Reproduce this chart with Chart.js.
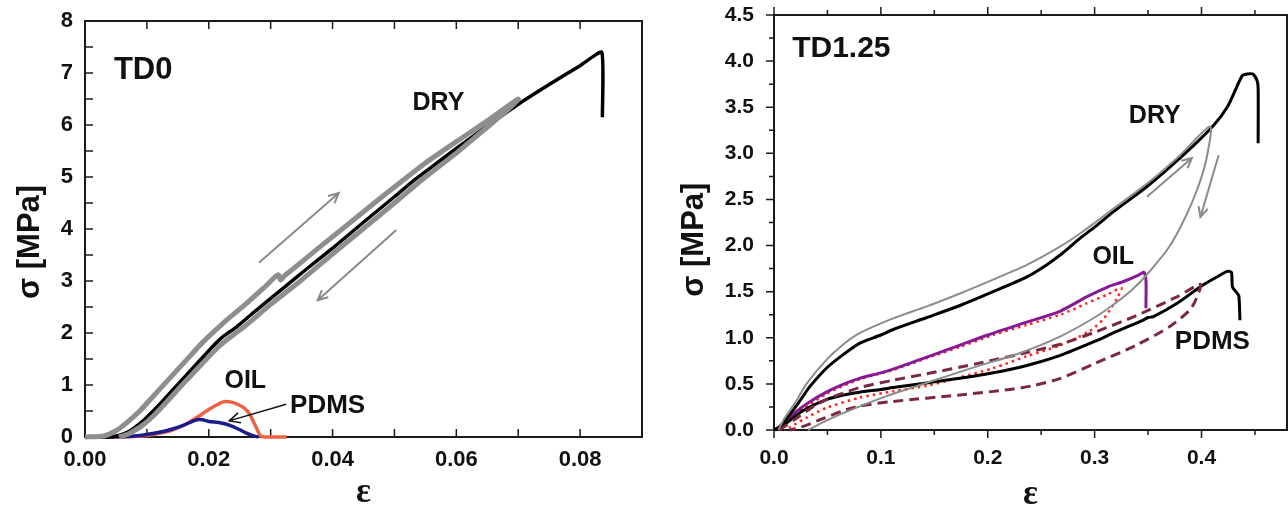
<!DOCTYPE html>
<html>
<head>
<meta charset="utf-8">
<script src="https://cdn.jsdelivr.net/npm/chart.js@4.4.1/dist/chart.umd.min.js"></script>
<style>
    html, body { margin: 0; padding: 0; background: #fff; overflow: hidden; }
    #wrap { position: relative; width: 1288px; height: 507px; }
    #chartTD0 { position: absolute; left: 0; top: 0; }
    #chartTD125 { position: absolute; left: 645px; top: 0; }
</style>
</head>
<body>
<div id="wrap">
    <canvas id="chartTD0" width="645" height="507"></canvas>
    <canvas id="chartTD125" width="643" height="507"></canvas>
</div>
<script>
// ---- TD0 panel (strain, stress MPa) ----
const td0XTicks = [0, 0.02, 0.04, 0.06, 0.08];
const td0YTicks = [0, 1, 2, 3, 4, 5, 6, 7, 8];
const td0DryBlack = [[0,0],[0.004,0],[0.005,0.02],[0.006,0.05],[0.007,0.10],[0.008,0.18],[0.009,0.27],[0.010,0.38],[0.012,0.62],[0.014,0.88],[0.016,1.14],[0.018,1.40],[0.020,1.66],[0.022,1.90],[0.0245,2.12],[0.028,2.47],[0.032,2.86],[0.036,3.25],[0.040,3.63],[0.045,4.13],[0.050,4.62],[0.053,4.92],[0.056,5.19],[0.060,5.55],[0.065,5.98],[0.070,6.40],[0.075,6.78],[0.080,7.14],[0.0835,7.40],[0.0836,6.15]];
const td0DryCycle = [[0,0],[0.003,0.02],[0.005,0.12],[0.007,0.30],[0.009,0.52],[0.011,0.78],[0.013,1.04],[0.015,1.30],[0.017,1.56],[0.019,1.82],[0.0226,2.22],[0.026,2.56],[0.029,2.88],[0.0312,3.12],[0.0316,3.02],[0.0322,3.10],[0.034,3.27],[0.038,3.66],[0.043,4.14],[0.048,4.62],[0.051,4.90],[0.055,5.27],[0.060,5.68],[0.065,6.08],[0.070,6.50],
    [0.068,6.26],[0.064,5.86],[0.060,5.46],[0.055,5.00],[0.050,4.50],[0.045,4.01],[0.040,3.52],[0.035,3.02],[0.030,2.55],[0.026,2.15],[0.022,1.78],[0.019,1.42],[0.016,1.04],[0.013,0.65],[0.011,0.40],[0.009,0.20],[0.007,0.06],[0.0055,0]];
const td0Oil = [[0,0],[0.006,0],[0.008,0.01],[0.010,0.03],[0.012,0.07],[0.014,0.13],[0.016,0.23],[0.018,0.37],[0.020,0.53],[0.0215,0.63],[0.0225,0.68],[0.0237,0.67],[0.0248,0.62],[0.0258,0.55],[0.0266,0.44],[0.0272,0.30],[0.0278,0.15],[0.0283,0.03],[0.029,0],[0.0326,0]];
const td0Pdms = [[0,0],[0.006,0.005],[0.008,0.02],[0.010,0.05],[0.012,0.09],[0.014,0.15],[0.016,0.23],[0.018,0.33],[0.019,0.33],[0.020,0.30],[0.022,0.27],[0.0235,0.22],[0.025,0.14],[0.026,0.08],[0.027,0.03],[0.028,0]];

const td0Labels = ['TD0', 'DRY', 'OIL', 'PDMS'];
const td0LabelAt = [[0.0094,7.04],[0.0571,6.43],[0.0259,1.07],[0.0392,0.59]];
const td0Arrows = [[0.0281,3.35,0.041,4.69],[0.0503,3.98,0.0376,2.63],[0.0325,0.63,0.0233,0.31]];

// ---- TD1.25 panel ----
const td125XTicks = [0, 0.1, 0.2, 0.3, 0.4];
const td125YTicks = [0, 0.5, 1, 1.5, 2, 2.5, 3, 3.5, 4, 4.5];
const td125DryBlack = [[0,0],[0.005,0.03],[0.015,0.17],[0.025,0.33],[0.0335,0.47],[0.049,0.67],[0.065,0.82],[0.080,0.94],[0.100,1.03],[0.1115,1.09],[0.143,1.22],[0.174,1.35],[0.205,1.50],[0.2366,1.66],[0.255,1.79],[0.268,1.90],[0.2865,2.08],[0.300,2.20],[0.318,2.37],[0.349,2.64],[0.380,2.95],[0.411,3.30],[0.425,3.52],[0.438,3.84],[0.443,3.86],[0.448,3.86],[0.452,3.79],[0.453,3.70],[0.453,3.11]];
const td125DryCycle = [[0.004,0],[0.010,0.13],[0.020,0.30],[0.0304,0.50],[0.049,0.76],[0.065,0.93],[0.080,1.05],[0.1115,1.21],[0.143,1.34],[0.174,1.48],[0.205,1.63],[0.2366,1.79],[0.268,1.99],[0.290,2.16],[0.320,2.42],[0.350,2.68],[0.380,2.98],[0.408,3.29],
    [0.405,2.96],[0.397,2.64],[0.385,2.31],[0.370,1.99],[0.350,1.70],[0.335,1.52],[0.320,1.38],[0.300,1.22],[0.267,1.01],[0.229,0.83],[0.190,0.69],[0.145,0.52],[0.106,0.37],[0.068,0.20],[0.045,0.08],[0.032,0]];
const td125Oil = [[0,0],[0.010,0.07],[0.020,0.19],[0.030,0.28],[0.049,0.41],[0.068,0.51],[0.080,0.56],[0.100,0.62],[0.1115,0.66],[0.143,0.79],[0.174,0.92],[0.200,1.03],[0.2366,1.17],[0.268,1.29],[0.292,1.44],[0.312,1.55],[0.327,1.61],[0.341,1.68],[0.346,1.71],[0.348,1.63],[0.348,1.32]];
const td125OilCycle = [[0,0],[0.020,0.17],[0.049,0.39],[0.080,0.55],[0.1115,0.65],[0.143,0.78],[0.174,0.90],[0.205,1.03],[0.2366,1.14],[0.268,1.25],[0.292,1.37],[0.312,1.47],[0.325,1.54],
    [0.322,1.45],[0.316,1.33],[0.308,1.20],[0.295,1.07],[0.268,0.92],[0.2366,0.80],[0.205,0.67],[0.174,0.57],[0.143,0.48],[0.1115,0.42],[0.080,0.35],[0.049,0.24],[0.030,0.13],[0.015,0.03],[0.010,0]];
const td125Pdms = [[0,0],[0.010,0.06],[0.020,0.15],[0.030,0.23],[0.049,0.33],[0.065,0.38],[0.080,0.41],[0.100,0.44],[0.1115,0.46],[0.143,0.51],[0.174,0.56],[0.205,0.62],[0.2366,0.70],[0.268,0.81],[0.300,0.96],[0.319,1.06],[0.345,1.19],[0.350,1.22],[0.355,1.23],[0.378,1.38],[0.401,1.57],[0.416,1.67],[0.424,1.72],[0.428,1.71],[0.429,1.55],[0.433,1.49],[0.435,1.45],[0.436,1.19]];
const td125PdmsCycle = [[0.005,0],[0.020,0.12],[0.035,0.24],[0.049,0.33],[0.080,0.46],[0.1115,0.54],[0.143,0.61],[0.190,0.72],[0.2366,0.84],[0.268,0.93],[0.300,1.06],[0.339,1.24],[0.378,1.45],[0.399,1.58],
    [0.395,1.42],[0.389,1.30],[0.370,1.12],[0.339,0.92],[0.300,0.72],[0.268,0.56],[0.242,0.48],[0.221,0.44],[0.174,0.38],[0.1115,0.31],[0.080,0.26],[0.065,0.21],[0.045,0.12],[0.030,0.05],[0.015,0]];

const td125Labels = ['TD1.25', 'DRY', 'OIL', 'PDMS'];
const td125LabelAt = [[0.063,4.13],[0.3563,3.40],[0.3174,1.87],[0.4102,0.96]];
const td125Arrows = [[0.349,2.53,0.391,2.95],[0.416,2.98,0.399,2.31]];

const toPts = arr => arr.map(p => ({ x: p[0], y: p[1] }));

function line(data, color, width, dash, tension) {
    return {
        data: toPts(data),
        showLine: true,
        borderColor: color,
        backgroundColor: color,
        borderWidth: width,
        borderDash: dash || [],
        pointRadius: 0,
        tension: tension === undefined ? 0.25 : tension,
        clip: 8
    };
}

// box + tick marks (ticks come from the scales)
const framePlugin = {
    id: 'frame',
    beforeDatasetsDraw(chart, args, o) {
        const { ctx, chartArea: a, scales: { x, y } } = chart;
        const d = o.inward ? 1 : -1;
        ctx.save();
        ctx.strokeStyle = '#1a1a1a';
        ctx.lineWidth = 1.5;
        ctx.beginPath();
        for (let i = 0; i * o.xStep <= x.max + 1e-9; i++) {
            const px = x.getPixelForValue(i * o.xStep);
            const len = i % o.xEvery === 0 ? o.major : o.minor;
            ctx.moveTo(px, a.bottom); ctx.lineTo(px, a.bottom - d * len);
            ctx.moveTo(px, a.top); ctx.lineTo(px, a.top + d * len);
        }
        for (let i = 0; i * o.yStep <= y.max + 1e-9; i++) {
            const py = y.getPixelForValue(i * o.yStep);
            const len = i % o.yEvery === 0 ? o.major : o.minor;
            ctx.moveTo(a.left, py); ctx.lineTo(a.left + d * len, py);
        }
        ctx.stroke();
        ctx.lineWidth = 2;
        ctx.strokeRect(a.left, a.top, a.right - a.left, a.bottom - a.top);
        ctx.restore();
    }
};

// text labels and arrows placed in data units
const notesPlugin = {
    id: 'notes',
    afterDatasetsDraw(chart, args, o) {
        const { ctx, scales: { x, y } } = chart;
        ctx.save();
        o.arrows.forEach((a, i) => {
            const x0 = x.getPixelForValue(a[0]), y0 = y.getPixelForValue(a[1]);
            const x1 = x.getPixelForValue(a[2]), y1 = y.getPixelForValue(a[3]);
            const st = o.arrowStyle[i];
            const ang = Math.atan2(y1 - y0, x1 - x0);
            ctx.strokeStyle = st.color;
            ctx.lineWidth = st.width;
            ctx.beginPath();
            ctx.moveTo(x0, y0); ctx.lineTo(x1, y1);
            ctx.moveTo(x1 - st.head * Math.cos(ang - 0.45), y1 - st.head * Math.sin(ang - 0.45));
            ctx.lineTo(x1, y1);
            ctx.lineTo(x1 - st.head * Math.cos(ang + 0.45), y1 - st.head * Math.sin(ang + 0.45));
            ctx.stroke();
        });
        ctx.fillStyle = '#111';
        ctx.textAlign = 'center';
        ctx.textBaseline = 'middle';
        o.labels.forEach((t, i) => {
            ctx.font = o.fonts[i];
            ctx.fillText(t, x.getPixelForValue(o.at[i][0]), y.getPixelForValue(o.at[i][1]));
        });
        ctx.restore();
    }
};

const fixedTicks = values => scale => {
    scale.ticks = values.map(v => ({ value: v }));
};

// fixed axis box size, and no extra room for edge labels
const boxSize = (w, h) => s => {
    if (w) s.width = w;
    if (h) s.height = h;
    s.paddingTop = 0; s.paddingBottom = 0; s.paddingLeft = 0; s.paddingRight = 0;
};

new Chart(document.getElementById('chartTD0'), {
    type: 'scatter',
    data: {
        datasets: [
            line(td0DryCycle, '#8e8e8e', 5),
            line(td0DryBlack, '#000000', 3.5, null, 0.15),
            line(td0Pdms, '#1b1b8c', 3.5),
            line(td0Oil, '#ee6244', 3.5)
        ]
    },
    options: {
        responsive: false,
        animation: false,
        layout: { padding: { top: 21, right: 3, bottom: 0, left: 0 } },
        plugins: {
            legend: { display: false },
            tooltip: { enabled: false },
            frame: { inward: true, xStep: 0.01, xEvery: 1, yStep: 0.5, yEvery: 1, major: 8, minor: 8 },
            notes: {
                labels: td0Labels, at: td0LabelAt,
                fonts: ['bold 31px "Liberation Sans"', 'bold 25px "Liberation Sans"', 'bold 25px "Liberation Sans"', 'bold 26px "Liberation Sans"'],
                arrows: td0Arrows,
                arrowStyle: [{ color: '#8a8a8a', width: 2, head: 11 }, { color: '#8a8a8a', width: 2, head: 11 }, { color: '#111', width: 1.5, head: 12 }]
            }
        },
        scales: {
            x: {
                type: 'linear', min: 0, max: 0.09,
                afterFit: boxSize(0, 70),
                afterBuildTicks: fixedTicks(td0XTicks),
                grid: { display: false, drawTicks: false },
                border: { display: false },
                ticks: { autoSkip: false, padding: 10, color: '#111',
                    font: { family: 'Liberation Sans', size: 22, weight: 'bold' },
                    callback: v => v.toFixed(2) },
                title: { display: true, text: 'ε', color: '#111', padding: { top: 0, bottom: 0 },
                    font: { family: 'Liberation Serif', size: 35, weight: 'bold', lineHeight: '28px' } }
            },
            y: {
                type: 'linear', min: 0, max: 8,
                afterFit: boxSize(85, 0),
                afterBuildTicks: fixedTicks(td0YTicks),
                grid: { display: false, drawTicks: false },
                border: { display: false },
                ticks: { autoSkip: false, padding: 12, color: '#111',
                    font: { family: 'Liberation Sans', size: 22, weight: 'bold' } },
                title: { display: true, text: 'σ [MPa]\u00a0\u00a0\u00a0', color: '#111', padding: { top: 15, bottom: 0 },
                    font: { family: 'Liberation Sans', size: 31, weight: 'bold', lineHeight: '30px' } }
            }
        }
    },
    plugins: [framePlugin, notesPlugin]
});

new Chart(document.getElementById('chartTD125'), {
    type: 'scatter',
    data: {
        datasets: [
            line(td125DryCycle, '#8c8c8c', 2),
            line(td125DryBlack, '#000000', 3),
            line(td125PdmsCycle, '#7a2a3c', 3, [10, 6]),
            line(td125Pdms, '#000000', 3),
            line(td125Oil, '#861a96', 3),
            line(td125OilCycle, '#ff1f1f', 2.5, [2.5, 4])
        ]
    },
    options: {
        responsive: false,
        animation: false,
        layout: { padding: { top: 15, right: 1, bottom: 0, left: 0 } },
        plugins: {
            legend: { display: false },
            tooltip: { enabled: false },
            frame: { inward: false, xStep: 0.05, xEvery: 2, yStep: 0.25, yEvery: 2, major: 8, minor: 5 },
            notes: {
                labels: td125Labels, at: td125LabelAt,
                fonts: ['bold 30px "Liberation Sans"', 'bold 25px "Liberation Sans"', 'bold 25px "Liberation Sans"', 'bold 26px "Liberation Sans"'],
                arrows: td125Arrows,
                arrowStyle: [{ color: '#8a8a8a', width: 2, head: 11 }, { color: '#8a8a8a', width: 2, head: 11 }]
            }
        },
        scales: {
            x: {
                type: 'linear', min: 0, max: 0.48,
                afterFit: boxSize(0, 77),
                afterBuildTicks: fixedTicks(td125XTicks),
                grid: { display: false, drawTicks: false },
                border: { display: false },
                ticks: { autoSkip: false, padding: 16, color: '#111',
                    font: { family: 'Liberation Sans', size: 21, weight: 'bold' },
                    callback: v => v.toFixed(1) },
                title: { display: true, text: 'ε', color: '#111', padding: { top: 0, bottom: 0 },
                    font: { family: 'Liberation Serif', size: 35, weight: 'bold', lineHeight: '24px' } }
            },
            y: {
                type: 'linear', min: 0, max: 4.5,
                afterFit: boxSize(129, 0),
                afterBuildTicks: fixedTicks(td125YTicks),
                grid: { display: false, drawTicks: false },
                border: { display: false },
                ticks: { autoSkip: false, padding: 20, color: '#111',
                    font: { family: 'Liberation Sans', size: 21, weight: 'bold' },
                    callback: v => v.toFixed(1) },
                title: { display: true, text: 'σ [MPa]\u00a0\u00a0\u00a0\u00a0', color: '#111', padding: { top: 34, bottom: 0 },
                    font: { family: 'Liberation Sans', size: 31, weight: 'bold', lineHeight: '30px' } }
            }
        }
    },
    plugins: [framePlugin, notesPlugin]
});
</script>
</body>
</html>
